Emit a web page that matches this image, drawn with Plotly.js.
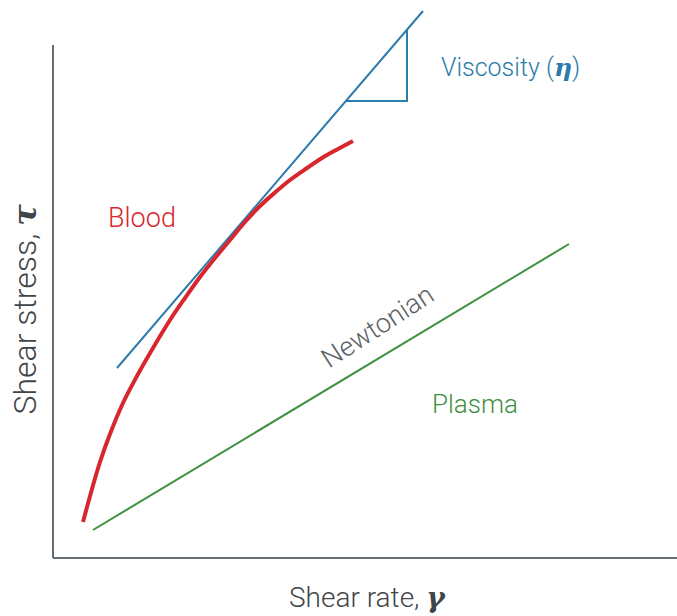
<!DOCTYPE html>
<html>
<head>
<meta charset="utf-8">
<script src="https://cdn.plot.ly/plotly-3.0.1.min.js"></script>
<style>html,body{margin:0;padding:0;background:#fff;}#chart{width:677px;height:616px;}</style>
</head>
<body>
<div id="chart"></div>
<script>
// Blood (non-Newtonian) curve: shear rate vs shear stress (arbitrary units)
const bloodRate   = [30, 34, 39, 47, 57, 70, 84, 100, 117, 132, 147, 162, 177, 192, 207, 222, 237, 254, 269, 285, 300];
const bloodStress = [36, 51, 69, 96, 124, 155, 182, 210, 238, 260, 281, 300, 318, 336, 352, 365.5, 378, 390, 400, 409, 417];
// Tangent line (viscosity)
const tangentRate   = [64, 370];
const tangentStress = [190, 547];
// Slope triangle
const triRate   = [293, 354, 354];
const triStress = [457, 457, 528];
// Plasma (Newtonian) line
const plasmaRate   = [40, 516];
const plasmaStress = [28, 314];
// Axis extents
const axisRateMax = 624;
const axisStressMax = 513;

const red = '#d8262f', blue = '#2b7cab', green = '#3f8f3f', gray = '#5b6267', axisCol = '#656d72', titleCol = '#3f4549';
const font = 'Roboto, "Liberation Sans", Arial, sans-serif';
const greek = c => '<b><i><span style="font-family:\'DejaVu Serif\'">' + c + '</span></i></b>';

const traces = [
  {x: tangentRate, y: tangentStress, mode: 'lines', line: {color: blue, width: 2}, hoverinfo: 'skip'},
  {x: triRate, y: triStress, mode: 'lines', line: {color: blue, width: 2}, hoverinfo: 'skip'},
  {x: plasmaRate, y: plasmaStress, mode: 'lines', line: {color: green, width: 2}, hoverinfo: 'skip'},
  {x: bloodRate, y: bloodStress, mode: 'lines', line: {color: red, width: 4, shape: 'spline', smoothing: 1}, hoverinfo: 'skip'}
];

const layout = {
  width: 677, height: 616,
  margin: {l: 50, r: 0, t: 10, b: 56},
  paper_bgcolor: '#fff', plot_bgcolor: '#fff',
  showlegend: false,
  xaxis: {range: [-3, 624], showgrid: false, zeroline: false, showticklabels: false, ticks: '', showline: false, fixedrange: true},
  yaxis: {range: [-2, 548], showgrid: false, zeroline: false, showticklabels: false, ticks: '', showline: false, fixedrange: true},
  shapes: [
    {type: 'line', xref: 'x', yref: 'y', x0: 0, x1: 0, y0: 0, y1: axisStressMax, line: {color: axisCol, width: 2}},
    {type: 'line', xref: 'x', yref: 'y', x0: 0, x1: axisRateMax, y0: 0, y1: 0, line: {color: axisCol, width: 2}}
  ],
  annotations: [
    {x: 457, y: 491, xref: 'x', yref: 'y', text: 'Viscosity (' + greek('η') + ')', showarrow: false, font: {family: font, size: 25, color: blue, weight: 300}},
    {x: 89, y: 340, xref: 'x', yref: 'y', text: 'Blood', showarrow: false, font: {family: font, size: 27, color: red, weight: 300}},
    {x: 324, y: 231, xref: 'x', yref: 'y', text: 'Newtonian', textangle: -33, showarrow: false, font: {family: font, size: 27, color: gray, weight: 300}},
    {x: 422, y: 154, xref: 'x', yref: 'y', text: 'Plasma', showarrow: false, font: {family: font, size: 26, color: green, weight: 300}},
    {x: 0.5056, y: -0.069, xref: 'paper', yref: 'paper', xanchor: 'center', yanchor: 'middle', text: 'Shear rate, ' + greek('γ'), showarrow: false, font: {family: font, size: 28, color: titleCol, weight: 300}},
    {x: -0.04, y: 0.457, xref: 'paper', yref: 'paper', xanchor: 'center', yanchor: 'middle', text: 'Shear stress, ' + greek('τ'), textangle: -90, showarrow: false, font: {family: font, size: 32, color: titleCol, weight: 300}}
  ]
};

Plotly.newPlot('chart', traces, layout, {staticPlot: true, displayModeBar: false});
</script>
</body>
</html>
